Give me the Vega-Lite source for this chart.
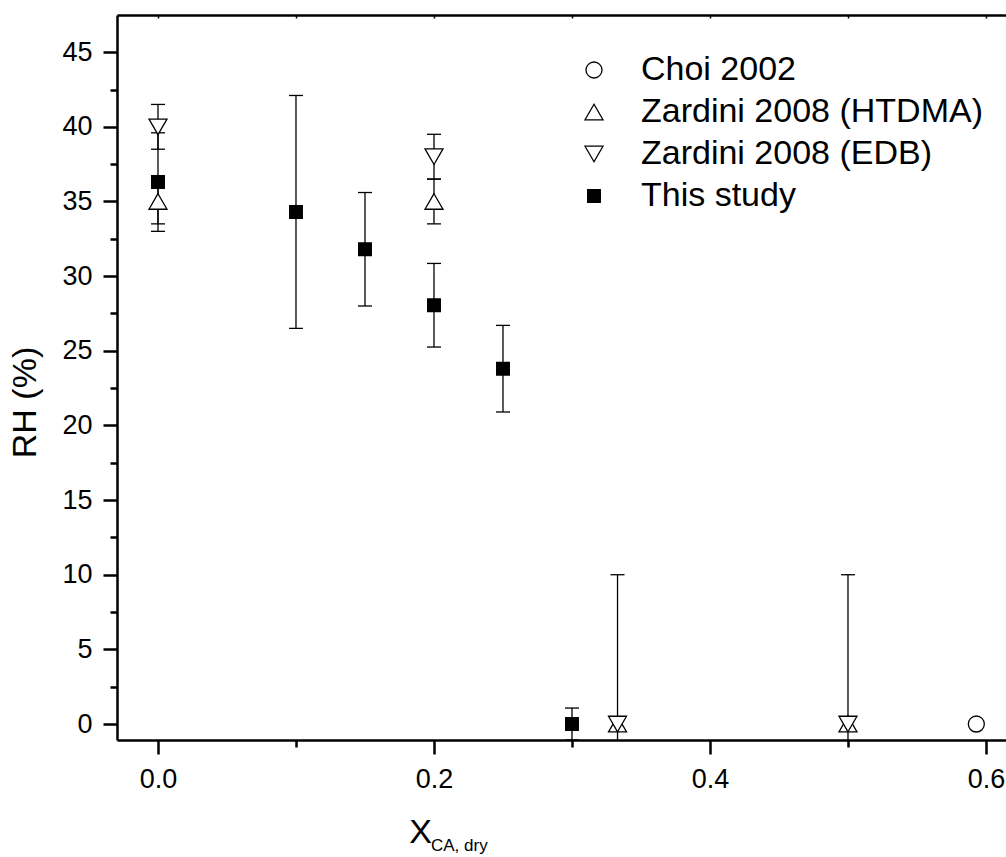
{
  "$schema": "https://vega.github.io/schema/vega-lite/v6.json",
  "autosize": "none",
  "width": 889,
  "height": 725,
  "padding": {"left": 117, "top": 15, "right": 0, "bottom": 117},
  "background": "white",
  "config": {
    "view": {"stroke": null},
    "font": "Liberation Sans",
    "axis": {"domainColor": "black", "tickColor": "black", "labelColor": "black", "titleColor": "black", "grid": false}
  },
  "title": {
    "text": "CA, dry",
    "orient": "bottom",
    "anchor": "start",
    "frame": "group",
    "fontSize": 17,
    "fontWeight": "normal",
    "color": "black",
    "baseline": "alphabetic",
    "offset": 0,
    "dx": 314,
    "dy": 2
  },
  "data": {
    "values": [
      {"series": "Choi 2002", "x": 0.593, "y": 0, "lo": null, "hi": null},
      {"series": "Zardini 2008 (HTDMA)", "x": 0.0, "y": 35, "lo": 33.5, "hi": 36.5},
      {"series": "Zardini 2008 (HTDMA)", "x": 0.2, "y": 35, "lo": 33.5, "hi": 36.5},
      {"series": "Zardini 2008 (HTDMA)", "x": 0.333, "y": 0, "lo": -10, "hi": 10},
      {"series": "Zardini 2008 (HTDMA)", "x": 0.5, "y": 0, "lo": -10, "hi": 10},
      {"series": "Zardini 2008 (EDB)", "x": 0.0, "y": 40, "lo": 38.5, "hi": 41.5},
      {"series": "Zardini 2008 (EDB)", "x": 0.2, "y": 38, "lo": 36.5, "hi": 39.5},
      {"series": "Zardini 2008 (EDB)", "x": 0.333, "y": 0, "lo": null, "hi": null},
      {"series": "Zardini 2008 (EDB)", "x": 0.5, "y": 0, "lo": null, "hi": null},
      {"series": "This study", "x": 0.0, "y": 36.3, "lo": 33.0, "hi": 39.6},
      {"series": "This study", "x": 0.1, "y": 34.3, "lo": 26.5, "hi": 42.1},
      {"series": "This study", "x": 0.15, "y": 31.8, "lo": 28.0, "hi": 35.6},
      {"series": "This study", "x": 0.2, "y": 28.05, "lo": 25.25, "hi": 30.85},
      {"series": "This study", "x": 0.25, "y": 23.8, "lo": 20.9, "hi": 26.7},
      {"series": "This study", "x": 0.3, "y": 0, "lo": -1.07, "hi": 1.07}
    ]
  },
  "layer": [
    {
      "transform": [{"filter": "datum.lo != null"}],
      "mark": {"type": "rule", "stroke": "black", "strokeWidth": 1.3, "clip": true},
      "encoding": {
        "x": {
          "field": "x", "type": "quantitative",
          "scale": {"domain": [-0.0297, 0.6145], "nice": false, "zero": false},
          "axis": {
            "orient": "bottom",
            "values": [0, 0.2, 0.4, 0.6],
            "format": ".1f",
            "tickSize": 14, "tickWidth": 2.5, "domainWidth": 2.5,
            "labelFontSize": 27, "labelPadding": 12, "labelFlush": false,
            "title": "X", "titleFontSize": 34, "titleFontWeight": "normal",
            "titleAlign": "center", "titleBaseline": "alphabetic",
            "titleX": 303, "titleY": 102
          }
        },
        "y": {
          "field": "lo", "type": "quantitative",
          "scale": {"domain": [-1.07, 47.49], "nice": false, "zero": false},
          "axis": {
            "orient": "left",
            "values": [0, 5, 10, 15, 20, 25, 30, 35, 40, 45],
            "tickSize": 14, "tickWidth": 2.5, "domainWidth": 2.5,
            "labelFontSize": 27, "labelPadding": 11, "labelFlush": false,
            "title": "RH (%)", "titleFontSize": 34, "titleFontWeight": "normal",
            "titleAngle": 270, "titleAlign": "center", "titleBaseline": "middle",
            "titleX": -92, "titleY": 387
          }
        },
        "y2": {"field": "hi"}
      }
    },
    {
      "transform": [{"filter": "datum.lo != null"}],
      "mark": {"type": "tick", "orient": "horizontal", "size": 14, "thickness": 1.3, "color": "black", "opacity": 1, "clip": true},
      "encoding": {
        "x": {
          "field": "x", "type": "quantitative",
          "axis": {"orient": "bottom", "values": [0.1, 0.3, 0.5], "tickSize": 7, "tickWidth": 2.5, "labels": false, "domain": false, "title": null}
        },
        "y": {
          "field": "lo", "type": "quantitative",
          "axis": {"orient": "left", "values": [2.5, 7.5, 12.5, 17.5, 22.5, 27.5, 32.5, 37.5, 42.5], "tickSize": 7, "tickWidth": 2.5, "labels": false, "domain": false, "title": null}
        }
      }
    },
    {
      "transform": [{"filter": "datum.hi != null"}],
      "mark": {"type": "tick", "orient": "horizontal", "size": 14, "thickness": 1.3, "color": "black", "opacity": 1, "clip": true},
      "encoding": {
        "x": {
          "field": "x", "type": "quantitative",
          "axis": {"orient": "top", "values": [0, 0.1, 0.2, 0.3, 0.4, 0.5, 0.6], "tickSize": -3, "tickWidth": 1.5, "labels": false, "domain": true, "domainWidth": 2.5, "title": null}
        },
        "y": {
          "field": "hi", "type": "quantitative",
          "axis": {"orient": "right", "ticks": false, "labels": false, "domain": false, "title": null}
        }
      }
    },
    {
      "mark": {"type": "point", "filled": true, "strokeWidth": 1.3, "opacity": 1, "fillOpacity": 1, "strokeOpacity": 1},
      "encoding": {
        "x": {"field": "x", "type": "quantitative", "axis": null},
        "y": {"field": "y", "type": "quantitative", "axis": null},
        "shape": {
          "field": "series", "type": "nominal",
          "scale": {"domain": ["Choi 2002", "Zardini 2008 (HTDMA)", "Zardini 2008 (EDB)", "This study"], "range": ["circle", "triangle-up", "triangle-down", "square"]},
          "legend": {"title": null, "orient": "none", "legendX": 460, "legendY": 38, "labelFontSize": 34, "labelColor": "black", "labelOffset": 30, "labelLimit": 600, "rowPadding": 8, "symbolStrokeWidth": 1.3, "symbolOpacity": 1, "padding": 0}
        },
        "fill": {
          "field": "series", "type": "nominal",
          "scale": {"domain": ["Choi 2002", "Zardini 2008 (HTDMA)", "Zardini 2008 (EDB)", "This study"], "range": ["white", "white", "white", "black"]},
          "legend": {"title": null, "orient": "none", "legendX": 460, "legendY": 38, "labelFontSize": 34, "labelColor": "black", "labelOffset": 30, "labelLimit": 600, "rowPadding": 8, "symbolStrokeWidth": 1.3, "symbolOpacity": 1, "padding": 0}
        },
        "stroke": {
          "field": "series", "type": "nominal",
          "scale": {"domain": ["Choi 2002", "Zardini 2008 (HTDMA)", "Zardini 2008 (EDB)", "This study"], "range": ["black", "black", "black", "black"]},
          "legend": {"title": null, "orient": "none", "legendX": 460, "legendY": 38, "labelFontSize": 34, "labelColor": "black", "labelOffset": 30, "labelLimit": 600, "rowPadding": 8, "symbolStrokeWidth": 1.3, "symbolOpacity": 1, "padding": 0}
        },
        "size": {
          "field": "series", "type": "nominal",
          "scale": {"type": "ordinal", "domain": ["Choi 2002", "Zardini 2008 (HTDMA)", "Zardini 2008 (EDB)", "This study"], "range": [256, 324, 324, 160]},
          "legend": {"title": null, "orient": "none", "legendX": 460, "legendY": 38, "labelFontSize": 34, "labelColor": "black", "labelOffset": 30, "labelLimit": 600, "rowPadding": 8, "symbolStrokeWidth": 1.3, "symbolOpacity": 1, "padding": 0}
        }
      }
    }
  ]
}
